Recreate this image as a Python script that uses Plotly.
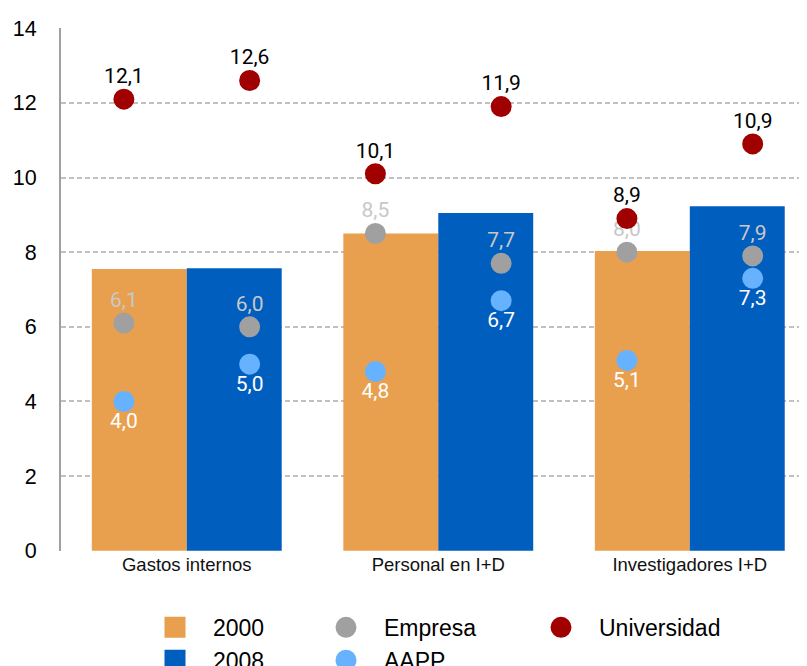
import plotly.graph_objects as go

categories = ["Gastos internos", "Personal en I+D", "Investigadores I+D"]
bars_2000 = [7.55, 8.5, 8.03]
bars_2008 = [7.57, 9.05, 9.23]

empresa_2000 = [6.1, 8.5, 8.0]
empresa_2008 = [6.0, 7.7, 7.9]
aapp_2000 = [4.0, 4.8, 5.1]
aapp_2008 = [5.0, 6.7, 7.3]
univ_2000 = [12.1, 10.1, 8.9]
univ_2008 = [12.6, 11.9, 10.9]

y_ticks = [0, 2, 4, 6, 8, 10, 12, 14]

C2000 = "#e8a04f"
C2008 = "#005ebf"
CEMP = "#a0a0a0"
CAAPP = "#66b2ff"
CUNIV = "#a00000"

idx = list(range(len(categories)))
OFF = 0.25
xs = []
for i in idx:
    xs += [i - OFF, i + OFF]


def interleave(a, b):
    out = []
    for u, v in zip(a, b):
        out += [u, v]
    return out


def fmt(v):
    return f"{v:.1f}".replace(".", ",")


fig = go.Figure()
fig.add_trace(go.Bar(x=idx, y=bars_2000, marker=dict(color=C2000, line=dict(width=0)),
                     showlegend=False, name="2000"))
fig.add_trace(go.Bar(x=idx, y=bars_2008, marker=dict(color=C2008, line=dict(width=0)),
                     showlegend=False, name="2008"))

label_font = dict(family="Roboto", size=21)

for name, a, b, col, tcol, pos in [
    ("Empresa", empresa_2000, empresa_2008, CEMP, "#c8c8c8", "top center"),
    ("AAPP", aapp_2000, aapp_2008, CAAPP, "#ffffff", "bottom center"),
    ("Universidad", univ_2000, univ_2008, CUNIV, "#000000", "top center"),
]:
    ys = interleave(a, b)
    fig.add_trace(go.Scatter(
        x=xs, y=ys, mode="markers+text", name=name,
        text=[fmt(v) for v in ys], textposition=pos,
        textfont=dict(color=tcol, **label_font),
        marker=dict(size=16, color=col, line=dict(width=5, color=col)),
        showlegend=False, cliponaxis=False,
    ))

# legend entries
legend_items = [
    ("2000", C2000, "square", "legend"),
    ("2008", C2008, "square", "legend"),
    ("Empresa", CEMP, "circle", "legend2"),
    ("AAPP", CAAPP, "circle", "legend2"),
    ("Universidad", CUNIV, "circle", "legend3"),
]
for name, col, sym, lg in legend_items:
    fig.add_trace(go.Scatter(
        x=[None], y=[None], mode="markers", name=name, legend=lg,
        marker=dict(size=16, symbol=sym, color=col, line=dict(width=5, color=col)),
    ))

leg_common = dict(orientation="v", xanchor="left", yanchor="top", y=-0.105,
                  font=dict(family="Liberation Sans", size=23, color="#000"),
                  bgcolor="rgba(0,0,0,0)", itemwidth=66, tracegroupgap=0)

# page body has an 8px margin: figure is 799x658 so it fits the 807x666 window
fig.update_layout(
    width=799, height=658,
    margin=dict(l=53, r=0, t=20, b=115, autoexpand=False),
    paper_bgcolor="white", plot_bgcolor="white",
    barmode="group", bargap=0.245, bargroupgap=0,
    showlegend=True,
    legend=dict(x=(137 - 61) / 746, **leg_common),
    legend2=dict(x=(308 - 61) / 746, **leg_common),
    legend3=dict(x=(523 - 61) / 746, **leg_common),
    xaxis=dict(range=[-0.5, 2.466], tickvals=idx, ticktext=categories,
               showgrid=False, zeroline=False, showline=False, ticks="",
               automargin=False,
               tickfont=dict(family="Liberation Sans", size=18.5, color="#111")),
    yaxis=dict(range=[-0.006, 14.006], tickvals=y_ticks, showgrid=True, gridcolor="#c0c0c0",
               griddash="5px,3px", gridwidth=2, zeroline=False,
               showline=True, linecolor="#a0a0a0", linewidth=2, ticks="",
               ticklabelstandoff=18, automargin=False,
               tickfont=dict(family="Liberation Sans", size=21.5, color="#000")),
)

fig.write_html("out.html")
